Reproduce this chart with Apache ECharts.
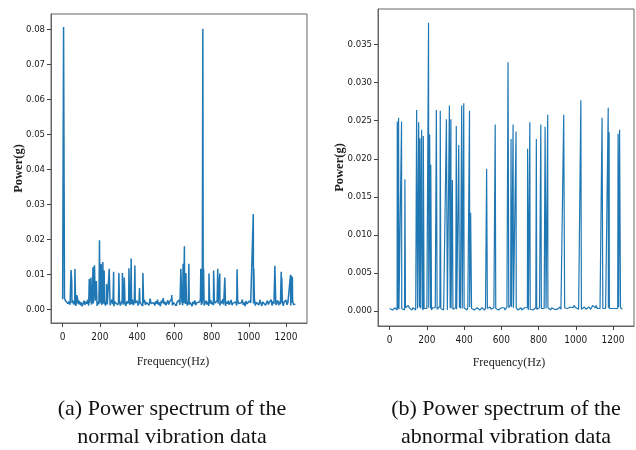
<!DOCTYPE html>
<html>
<head>
<meta charset="utf-8">
<title>Power spectrum</title>
<script src="https://cdn.jsdelivr.net/npm/echarts@6/dist/echarts.min.js"></script>
<style>
  html, body { margin: 0; padding: 0; background: #fff; }
  #main { width: 636px; height: 450px; }
</style>
</head>
<body>
<div id="main"></div>
<script>
// Tick labels
var freqTicks = [0, 200, 400, 600, 800, 1000, 1200];
var normalPowerTicks = [0, 0.01, 0.02, 0.03, 0.04, 0.05, 0.06, 0.07, 0.08];
var abnormalPowerTicks = [0, 0.005, 0.01, 0.015, 0.02, 0.025, 0.03, 0.035];

// Noise floor, one value every 5 Hz from 0 to 1250 Hz
var floorStep = 5;
var normalFloor = [
  0.0028, 0.0038, 0.0031, 0.0024, 0.0019, 0.0026, 0.0015, 0.0022, 0.0012, 0.0020,
  0.0017, 0.0025, 0.0013, 0.0021, 0.0009, 0.0018, 0.0031, 0.0014, 0.0023, 0.0011,
  0.0019, 0.0008, 0.0016, 0.0024, 0.0012, 0.0021, 0.0015, 0.0027, 0.0010, 0.0018,
  0.0022, 0.0013, 0.0028, 0.0016, 0.0011, 0.0024, 0.0019, 0.0009, 0.0021, 0.0014,
  0.0026, 0.0017, 0.0012, 0.0023, 0.0015, 0.0020, 0.0010, 0.0025, 0.0013, 0.0018,
  0.0022, 0.0011, 0.0019, 0.0027, 0.0014, 0.0008, 0.0021, 0.0016, 0.0024, 0.0012,
  0.0018, 0.0023, 0.0010, 0.0017, 0.0026, 0.0013, 0.0020, 0.0015, 0.0009, 0.0022,
  0.0016, 0.0025, 0.0012, 0.0019, 0.0014, 0.0028, 0.0011, 0.0021, 0.0017, 0.0013,
  0.0024, 0.0010, 0.0018, 0.0022, 0.0015, 0.0020, 0.0009, 0.0017, 0.0026, 0.0012,
  0.0019, 0.0014, 0.0023, 0.0011, 0.0030, 0.0016, 0.0021, 0.0013, 0.0018, 0.0010,
  0.0022, 0.0015, 0.0027, 0.0012, 0.0019, 0.0008, 0.0024, 0.0017, 0.0031, 0.0014,
  0.0020, 0.0011, 0.0018, 0.0025, 0.0013, 0.0021, 0.0016, 0.0029, 0.0010, 0.0019,
  0.0023, 0.0014, 0.0009, 0.0020, 0.0016, 0.0026, 0.0012, 0.0018, 0.0022, 0.0011,
  0.0017, 0.0028, 0.0015, 0.0021, 0.0010, 0.0024, 0.0013, 0.0019, 0.0016, 0.0008,
  0.0021, 0.0014, 0.0025, 0.0011, 0.0018, 0.0022, 0.0015, 0.0020, 0.0027, 0.0012,
  0.0019, 0.0023, 0.0010, 0.0017, 0.0024, 0.0013, 0.0021, 0.0009, 0.0016, 0.0026,
  0.0014, 0.0020, 0.0011, 0.0023, 0.0017, 0.0012, 0.0025, 0.0015, 0.0019, 0.0010,
  0.0022, 0.0016, 0.0028, 0.0013, 0.0018, 0.0009, 0.0021, 0.0015, 0.0024, 0.0012,
  0.0019, 0.0026, 0.0011, 0.0017, 0.0022, 0.0014, 0.0020, 0.0010, 0.0025, 0.0016,
  0.0013, 0.0021, 0.0018, 0.0027, 0.0012, 0.0019, 0.0008, 0.0023, 0.0015, 0.0020,
  0.0011, 0.0024, 0.0017, 0.0013, 0.0022, 0.0016, 0.0029, 0.0010, 0.0019, 0.0014,
  0.0021, 0.0012, 0.0026, 0.0017, 0.0009, 0.0020, 0.0015, 0.0023, 0.0011, 0.0018,
  0.0024, 0.0013, 0.0019, 0.0016, 0.0027, 0.0010, 0.0022, 0.0015, 0.0020, 0.0012,
  0.0017, 0.0025, 0.0011, 0.0021, 0.0014, 0.0018, 0.0023, 0.0009, 0.0020, 0.0016,
  0.0026, 0.0012, 0.0019, 0.0015, 0.0022, 0.0010, 0.0018, 0.0024, 0.0013, 0.0017,
  0.0014
];
var abnormalFloor = [
  0.0003, 0.0002, 0.0004, 0.0001, 0.0003, 0.0002, 0.0004, 0.0003, 0.0001, 0.0003,
  0.0002, 0.0004, 0.0001, 0.0003, 0.0002, 0.0003, 0.0001, 0.0004, 0.0002, 0.0003,
  0.0007, 0.0004, 0.0002, 0.0003, 0.0001, 0.0004, 0.0002, 0.0003, 0.0001, 0.0004,
  0.0003, 0.0002, 0.0005, 0.0003, 0.0002, 0.0004, 0.0001, 0.0003, 0.0002, 0.0004,
  0.0003, 0.0001, 0.0004, 0.0002, 0.0003, 0.0001, 0.0004, 0.0003, 0.0002, 0.0004,
  0.0003, 0.0002, 0.0004, 0.0003, 0.0006, 0.0003, 0.0002, 0.0004, 0.0001, 0.0003,
  0.0002, 0.0004, 0.0001, 0.0003, 0.0002, 0.0004, 0.0003, 0.0005, 0.0002, 0.0003,
  0.0001, 0.0004, 0.0002, 0.0003, 0.0002, 0.0004, 0.0003, 0.0001, 0.0003, 0.0002,
  0.0004, 0.0002, 0.0003, 0.0001, 0.0004, 0.0003, 0.0005, 0.0002, 0.0003, 0.0002,
  0.0004, 0.0001, 0.0003, 0.0002, 0.0004, 0.0003, 0.0002, 0.0001, 0.0003, 0.0004,
  0.0002, 0.0003, 0.0001, 0.0004, 0.0002, 0.0003, 0.0002, 0.0004, 0.0005, 0.0002,
  0.0003, 0.0001, 0.0004, 0.0002, 0.0003, 0.0002, 0.0004, 0.0001, 0.0003, 0.0002,
  0.0004, 0.0003, 0.0002, 0.0004, 0.0001, 0.0003, 0.0005, 0.0003, 0.0004, 0.0006,
  0.0008, 0.0005, 0.0007, 0.0004, 0.0003, 0.0002, 0.0004, 0.0003, 0.0001, 0.0003,
  0.0002, 0.0004, 0.0001, 0.0003, 0.0002, 0.0004, 0.0003, 0.0002, 0.0004, 0.0001,
  0.0003, 0.0002, 0.0004, 0.0003, 0.0001, 0.0003, 0.0002, 0.0004, 0.0002, 0.0003,
  0.0001, 0.0004, 0.0002, 0.0003, 0.0002, 0.0004, 0.0003, 0.0001, 0.0003, 0.0002,
  0.0004, 0.0002, 0.0003, 0.0001, 0.0004, 0.0002, 0.0003, 0.0002, 0.0004, 0.0003,
  0.0002, 0.0004, 0.0003, 0.0005, 0.0002, 0.0004, 0.0003, 0.0002, 0.0004, 0.0003,
  0.0005, 0.0003, 0.0004, 0.0002, 0.0005, 0.0004, 0.0006, 0.0004, 0.0007, 0.0005,
  0.0004, 0.0003, 0.0005, 0.0002, 0.0004, 0.0003, 0.0002, 0.0004, 0.0003, 0.0005,
  0.0003, 0.0002, 0.0004, 0.0003, 0.0005, 0.0003, 0.0002, 0.0004, 0.0007, 0.0005,
  0.0006, 0.0004, 0.0007, 0.0003, 0.0002, 0.0004, 0.0003, 0.0005, 0.0002, 0.0003,
  0.0004, 0.0002, 0.0003, 0.0005, 0.0002, 0.0004, 0.0003, 0.0002, 0.0004, 0.0003,
  0.0002, 0.0004, 0.0003, 0.0002, 0.0004, 0.0003, 0.0005, 0.0002, 0.0004, 0.0003,
  0.0002
];

// Spectral peaks [frequency Hz, power g]
var normalPeaks = [
  [5, 0.0808], [45, 0.0112], [49, 0.0078], [66, 0.0115], [76, 0.0040],
  [143, 0.0086], [152, 0.0090], [163, 0.0120], [171, 0.0125], [181, 0.0080],
  [198, 0.0197], [207, 0.0130], [216, 0.0135], [223, 0.0110], [236, 0.0072],
  [250, 0.0115], [274, 0.0107], [302, 0.0103], [321, 0.0103], [331, 0.0090],
  [356, 0.0117], [368, 0.0145], [388, 0.0125], [413, 0.0060], [431, 0.0103],
  [586, 0.0040], [635, 0.0115], [647, 0.0130], [654, 0.0180], [662, 0.0103],
  [678, 0.0130], [742, 0.0115], [753, 0.0803], [757, 0.0115], [786, 0.0102],
  [811, 0.0110], [833, 0.0115], [844, 0.0102], [871, 0.0090], [937, 0.0114],
  [1024, 0.0272], [1027, 0.0115], [1140, 0.0124], [1174, 0.0107], [1177, 0.0090],
  [1224, 0.0098], [1229, 0.0095], [1234, 0.0092]
];
var abnormalPeaks = [
  [41, 0.0249], [48, 0.0254], [64, 0.0249], [82, 0.0173],
  [145, 0.0264], [156, 0.0248], [163, 0.0227], [172, 0.0238], [181, 0.0230],
  [209, 0.0379], [215, 0.0232], [221, 0.0192], [251, 0.0264], [272, 0.0263],
  [305, 0.0252], [321, 0.0270], [329, 0.0252], [337, 0.0172], [358, 0.0243],
  [371, 0.0218], [376, 0.0032], [387, 0.0270], [398, 0.0273], [429, 0.0263],
  [435, 0.0129], [521, 0.0187], [567, 0.0245], [636, 0.0327], [652, 0.0226],
  [663, 0.0245], [679, 0.0236], [741, 0.0213], [753, 0.0248], [788, 0.0226],
  [812, 0.0245], [835, 0.0242], [849, 0.0258], [935, 0.0258], [1027, 0.0277],
  [1141, 0.0254], [1174, 0.0267], [1179, 0.0235], [1227, 0.0233], [1235, 0.0238]
];

// merge floor samples and peaks into one sorted frequency list
function spectrum(floor, peaks) {
  var pts = [];
  var taken = {};
  peaks.forEach(function (p) { taken[p[0]] = true; pts.push([p[0], p[1]]); });
  floor.forEach(function (v, i) {
    var f = i * floorStep;
    if (!taken[f]) pts.push([f, v]);
  });
  pts.sort(function (a, b) { return a[0] - b[0]; });
  return pts;
}

var tickFamily = '"DejaVu Sans Condensed", "Liberation Sans", sans-serif';
var serifFamily = '"Liberation Serif", serif';

function xAxisFor(gridIndex, gap, pad) {
  return {
    type: 'value', gridIndex: gridIndex,
    min: -62.5, max: 1312.5,
    name: 'Frequency(Hz)', nameLocation: 'middle', nameGap: gap,
    nameMoveOverlap: false,
    nameTextStyle: { fontFamily: serifFamily, fontSize: 12, color: '#222', padding: pad },
    axisLine: { show: true, onZero: false, lineStyle: { color: '#666' } },
    axisTick: { show: true, length: 4, customValues: freqTicks, lineStyle: { color: '#444' } },
    axisLabel: {
      margin: 9, customValues: freqTicks,
      fontFamily: tickFamily, fontSize: 10, color: '#1a1a1a',
      formatter: function (v) { return String(v); }
    },
    splitLine: { show: false }
  };
}

function yAxisFor(gridIndex, min, max, ticks, digits, gap) {
  return {
    type: 'value', gridIndex: gridIndex,
    min: min, max: max,
    name: 'Power(g)', nameLocation: 'middle', nameGap: gap, nameRotate: 90,
    nameMoveOverlap: false,
    nameTextStyle: { fontFamily: serifFamily, fontSize: 12.5, fontWeight: 'bold', color: '#222' },
    axisLine: { show: true, onZero: false, lineStyle: { color: '#666' } },
    axisTick: { show: true, length: 4, customValues: ticks, lineStyle: { color: '#444' } },
    axisLabel: {
      margin: 6, customValues: ticks,
      fontFamily: tickFamily, fontSize: 9.5, color: '#1a1a1a',
      formatter: function (v) { return v.toFixed(digits); }
    },
    splitLine: { show: false }
  };
}

var chart = echarts.init(document.getElementById('main'), null, { renderer: 'canvas' });

chart.setOption({
  animation: false,
  backgroundColor: '#fff',
  grid: [
    { left: 51, top: 14, width: 256, height: 309, show: true, borderColor: '#666', borderWidth: 1 },
    { left: 378, top: 9, width: 256, height: 317, show: true, borderColor: '#666', borderWidth: 1 }
  ],
  xAxis: [xAxisFor(0, 33, [0, 12, 0, 0]), xAxisFor(1, 31, [0, 0, 0, 6])],
  yAxis: [
    yAxisFor(0, -0.004, 0.0845, normalPowerTicks, 2, 26),
    yAxisFor(1, -0.002, 0.0397, abnormalPowerTicks, 3, 31.5)
  ],
  series: [
    {
      type: 'line', xAxisIndex: 0, yAxisIndex: 0,
      data: spectrum(normalFloor, normalPeaks),
      showSymbol: false, lineStyle: { color: '#1f77b4', width: 1.5, join: 'bevel' }
    },
    {
      type: 'line', xAxisIndex: 1, yAxisIndex: 1,
      data: spectrum(abnormalFloor, abnormalPeaks),
      showSymbol: false, lineStyle: { color: '#1f77b4', width: 1.2, join: 'bevel' }
    }
  ],
  graphic: [
    {
      type: 'text', x: 172, y: 395,
      style: {
        text: '(a) Power spectrum of the\nnormal vibration data',
        align: 'center', verticalAlign: 'top',
        font: '22px "Liberation Serif", serif', lineHeight: 28, fill: '#111'
      }
    },
    {
      type: 'text', x: 506, y: 395,
      style: {
        text: '(b) Power spectrum of the\nabnormal vibration data',
        align: 'center', verticalAlign: 'top',
        font: '22px "Liberation Serif", serif', lineHeight: 28, fill: '#111'
      }
    }
  ]
});
</script>
</body>
</html>
